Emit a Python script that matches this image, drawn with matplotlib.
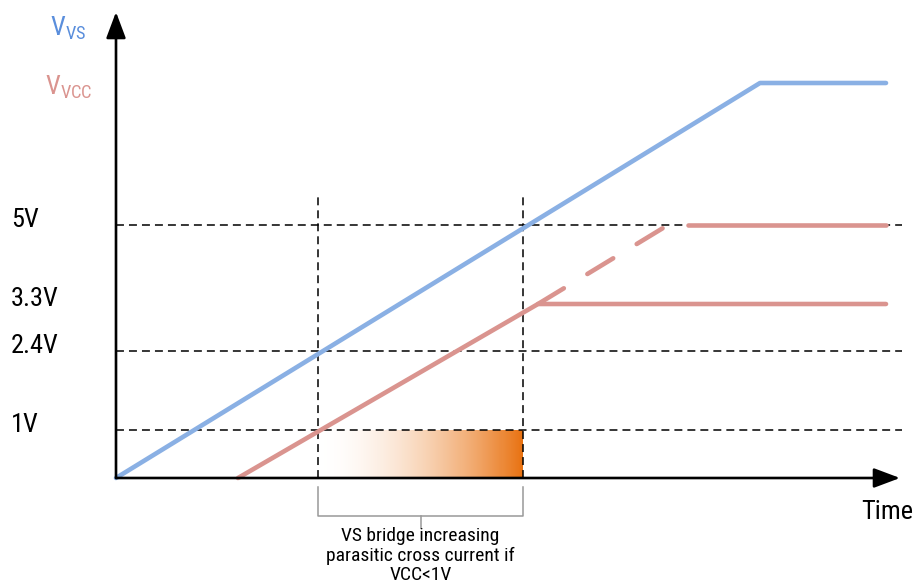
import numpy as np
import matplotlib
matplotlib.use('Agg')
import matplotlib.pyplot as plt
from matplotlib import font_manager

# pick a narrow font if one is there
names = {f.name for f in font_manager.fontManager.ttflist}
font = 'DejaVu Sans'
for cand in ['Liberation Sans Narrow', 'DejaVu Sans Condensed', 'Roboto Condensed', 'Roboto']:
    if cand in names:
        font = cand
        break
plt.rcParams['font.family'] = [font, 'DejaVu Sans']
plt.rcParams['mathtext.fontset'] = 'custom'
plt.rcParams['mathtext.rm'] = font

# data (time in arbitrary units, voltage in V)
vs_t = [0.0, 6.44, 7.70]
vs_v = [0.0, 12.0, 12.0]
vcc_t = [1.22, 4.22, 7.70]
vcc_v = [0.0, 3.3, 3.3]
vcc_alt_t = [4.22, 5.52]
vcc_alt_v = [3.3, 5.0]
vcc_alt_flat_t = [5.72, 7.70]
vcc_alt_flat_v = [5.0, 5.0]
levels = [1.0, 2.4, 3.3, 5.0]
level_labels = ['1V', '2.4V', '3.3V', '5V']
dashed_levels = [1.0, 2.4, 5.0]
window = [2.02, 4.07]
note = 'VS bridge increasing\nparasitic cross current if\nVCC<1V'

blue = '#8AB0E4'
blue_txt = '#5A8EDC'
red = '#DA948F'
orange = np.array([232, 113, 16]) / 255

# diagram is not to scale: piecewise linear voltage axis
scale_v = [-10, 0, 1, 2.4, 3.3, 5, 12, 30]
scale_p = [-500, 0, 48, 127, 174, 253, 395, 760]
fwd = lambda v: np.interp(v, scale_v, scale_p)
inv = lambda p: np.interp(p, scale_p, scale_v)

fig = plt.figure(figsize=(9.18, 5.86), dpi=100)
ax = fig.add_axes([0, 0, 1, 1])
ax.set_yscale('function', functions=(fwd, inv))
ax.set_xlim(-1.16, 8.02)
ax.set_ylim(inv(-108), inv(478))
ax.axis('off')

# reference lines
ax.hlines(dashed_levels, 0, 7.86, colors='black', linestyles=(0, (5.2, 3.3)), lw=1.1, zorder=1)
for t in window:
    ax.plot([t, t], [0, inv(282)], color='black', ls=(0, (5.2, 3.3)), lw=1.1, zorder=1)

# gradient box
n = 200
xs = np.linspace(window[0], window[1], n + 1)
s = (np.arange(n) + 0.5) / n
f = s ** 1.8
cols = [(1 - k) * np.ones(3) + k * orange for k in f]
ax.bar(xs[:-1], 1.0, width=xs[1] - xs[0], align='edge', color=cols, linewidth=0,
       antialiased=False, zorder=0.5)

# signals
ax.plot(vcc_t, vcc_v, color=red, lw=3.3, solid_capstyle='round', solid_joinstyle='round', zorder=3)
ax.plot(vcc_alt_t, vcc_alt_v, color=red, lw=3.3, ls=(0, (6.6, 6.0)), dash_capstyle='round', zorder=3)
ax.plot(vcc_alt_flat_t, vcc_alt_flat_v, color=red, lw=3.3, solid_capstyle='round', zorder=3)
ax.plot(vs_t, vs_v, color=blue, lw=3.3, solid_capstyle='round', solid_joinstyle='round', zorder=3)

# axes arrows
arr = dict(arrowstyle='-|>,head_length=0.8,head_width=0.3', lw=1.9, color='black',
           mutation_scale=20, shrinkA=0, shrinkB=0)
ax.annotate('', xy=(0, 1 - 12 / 586), xycoords=('data', 'axes fraction'),
            xytext=(0, 0), textcoords='data', arrowprops=arr, zorder=4)
ax.annotate('', xy=(7.84, 0), xytext=(0, 0), arrowprops=arr, zorder=4)

# labels
for v, lab in zip(levels, level_labels):
    ax.annotate(lab, xy=(0.012, v), xycoords=('axes fraction', 'data'), xytext=(0, 3.6),
                textcoords='offset points', ha='left', va='center', fontsize=19)
ax.text(50 / 918, 1 - 28 / 586, r'V$_{\mathrm{VS}}$', transform=ax.transAxes,
        color=blue_txt, fontsize=19, ha='left', va='center')
ax.text(45 / 918, 1 - 87 / 586, r'V$_{\mathrm{VCC}}$', transform=ax.transAxes,
        color=red, fontsize=19, ha='left', va='center')
ax.text(861 / 918, 1 - 512 / 586, 'Time', transform=ax.transAxes, fontsize=19,
        ha='left', va='center')

# bracket with note
mid = (window[0] + window[1]) / 2
gray = '#999999'
ax.plot([window[0], window[0], window[1], window[1]], [-0.18, -0.76, -0.76, -0.18],
        color=gray, lw=1.1)
ax.plot([mid, mid], [-0.76, -1.0], color=gray, lw=1.1)
ax.text(mid, -0.98, note, ha='center', va='top', fontsize=14, linespacing=1.1)

fig.savefig('out.png', dpi=100)
